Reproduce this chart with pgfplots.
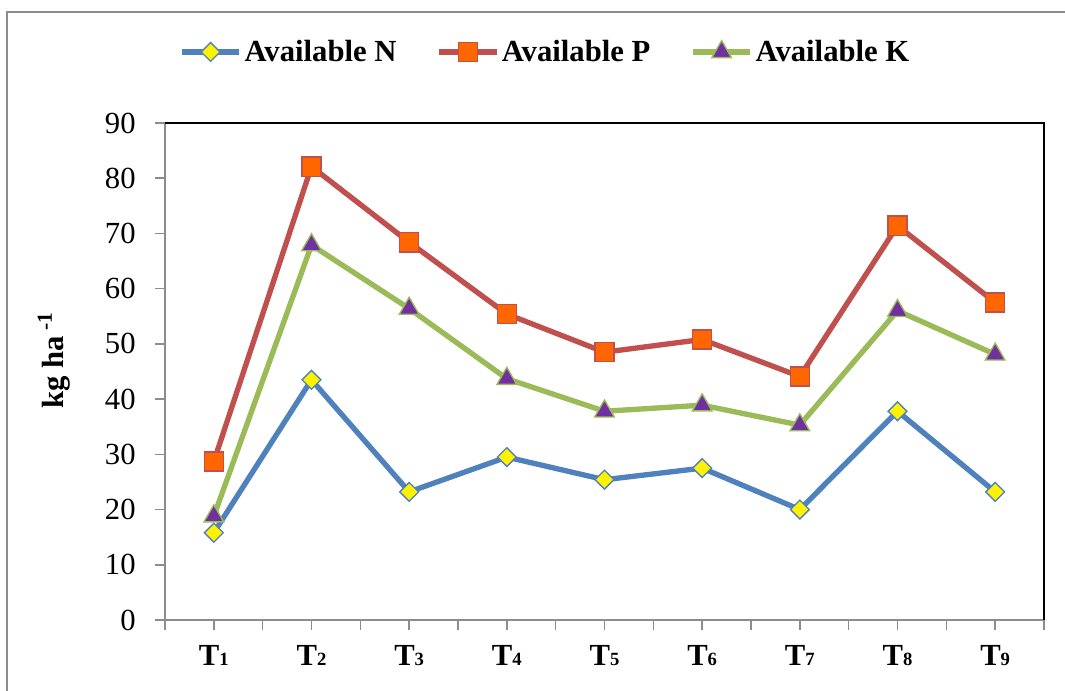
\documentclass[border=0pt]{standalone}
\usepackage{pgfplots}
\pgfplotsset{compat=1.18}
\usepackage{pgfplotstable}
\usepackage{fontspec}
\setmainfont{Liberation Serif}
\definecolor{nblue}{HTML}{4F81BD}
\definecolor{pred}{HTML}{C0504D}
\definecolor{kgreen}{HTML}{9BBB59}
\definecolor{porange}{HTML}{FF6600}
\definecolor{kpurple}{HTML}{7030A0}
\definecolor{framegray}{HTML}{8C8C8C}
\newcommand\Tl[1]{T{\fontsize{14}{14}\selectfont #1}}
\pgfplotstableread{
x N P K
1 15.8 28.7 18.8
2 43.5 82.1 67.9
3 23.2 68.4 56.4
4 29.5 55.4 43.7
5 25.4 48.5 37.8
6 27.5 50.8 38.9
7 20.0 44.1 35.3
8 37.8 71.4 56.0
9 23.2 57.5 48.1
}\datatable
\begin{document}
\begin{tikzpicture}
\path[use as bounding box] (0,0) rectangle (798.75pt,518.25pt);
\draw[framegray,line width=1.6pt] (5.25pt,-5pt) -- (5.25pt,509.25pt) -- (805pt,509.25pt);
\begin{axis}[
 at={(123.75pt,53.25pt)}, anchor=south west,
 scale only axis, width=659.25pt, height=372.75pt,
 xmin=0.5, xmax=9.5, ymin=0, ymax=90,
 axis x line*=bottom, axis y line*=left,
 axis line style={framegray, line width=1.6pt, -},
 xtick={0.5,1.5,...,9.5}, xticklabels={},
 x tick style={draw=framegray,line width=1.2pt},
 extra x ticks={1,...,9},
 extra x tick labels={\Tl{1},\Tl{2},\Tl{3},\Tl{4},\Tl{5},\Tl{6},\Tl{7},\Tl{8},\Tl{9}},
 extra x tick style={tick style={draw=none}},
 ytick={0,10,...,90},
 y tick style={framegray,line width=1.2pt},
 tick align=outside, major tick length=7.5pt,
 /pgf/number format/assume math mode=true,
 yticklabel style={font=\fontsize{23}{23}\selectfont, xshift=-11pt},
 xticklabel style={font=\fontsize{23}{23}\selectfont\bfseries, yshift=-8pt},
 ylabel={\textbf{kg ha\,\textsuperscript{-1}}},
 ylabel style={font=\fontsize{23}{23}\selectfont, at={(axis description cs:-0.126,0.523)}, anchor=center},
 legend style={at={(axis description cs:0.433,1.143)}, anchor=center, draw=none, fill=none,
   font=\fontsize{23}{23}\selectfont\bfseries,
   /tikz/every even column/.append style={column sep=28pt}},
 legend columns=3,
 legend image code/.code={\draw[#1,mark repeat=2,mark phase=2] plot coordinates {(0pt,0pt) (21.5pt,0pt) (43pt,0pt)};},
 clip=false,
]
\addplot[nblue, line width=4pt, mark=square*, mark size=5pt,
  mark options={rotate=45, fill=yellow, draw=nblue, line width=1pt, solid}] table[x=x,y=N] {\datatable};
\addlegendentry{Available N}
\addplot[pred, line width=4pt, mark=square*, mark size=7.2pt,
  mark options={fill=porange, draw=pred, line width=1pt, solid}] table[x=x,y=P] {\datatable};
\addlegendentry{Available P}
\addplot[kgreen, line width=4pt, mark=triangle*, mark size=8.5pt,
  mark options={fill=kpurple, draw=kgreen, line width=1pt, solid}] table[x=x,y=K] {\datatable};
\addlegendentry{Available K}
\draw[black, line width=1.6pt] (rel axis cs:0,1) -- (rel axis cs:1,1) -- (rel axis cs:1,0);
\end{axis}
\end{tikzpicture}
\end{document}
